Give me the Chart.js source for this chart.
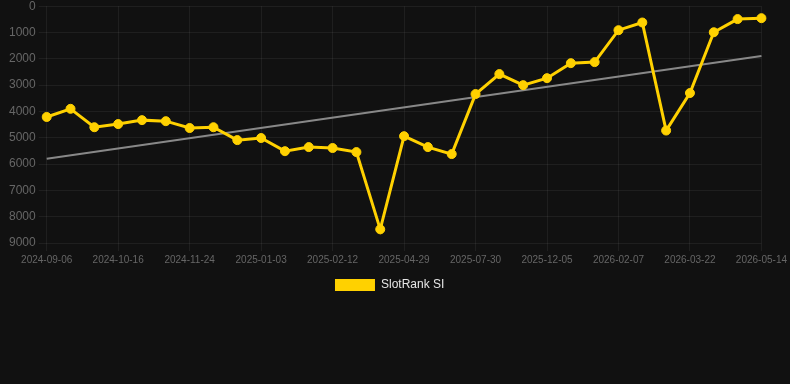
<!DOCTYPE html>
<html>
<head>
<meta charset="utf-8">
<script src="https://cdn.jsdelivr.net/npm/chart.js@4"></script>
<style>
  html, body { margin: 0; padding: 0; background: #111111; overflow: hidden; }
  #wrap { width: 790px; height: 305px; position: relative; margin-top: -4px; }
</style>
</head>
<body>
<div id="wrap"><canvas id="c"></canvas></div>
<script>
const dates = [
  "2024-09-06","2024-09-19","2024-10-03","2024-10-16","2024-10-29","2024-11-11",
  "2024-11-24","2024-12-07","2024-12-20","2025-01-03","2025-01-16","2025-01-29",
  "2025-02-12","2025-03-10","2025-04-03","2025-04-29","2025-05-29","2025-06-29",
  "2025-07-30","2025-09-04","2025-10-10","2025-12-05","2025-12-24","2026-01-14",
  "2026-02-07","2026-02-22","2026-03-07","2026-03-22","2026-04-09","2026-04-27",
  "2026-05-14"
];
const slotRankSI = [
  4210, 3900, 4600, 4480, 4330, 4370,
  4630, 4600, 5090, 5010, 5510, 5355,
  5390, 5545, 8480, 4940, 5355, 5620,
  3340, 2580, 3000, 2735, 2165, 2125,
  912, 620, 4726, 3300, 990, 490,
  455
];
const trendEnds = [5800, 1890];
const yTicks = [0, 1000, 2000, 3000, 4000, 5000, 6000, 7000, 8000, 9000];

const trendData = dates.map((d, i) => i === 0 ? trendEnds[0] : (i === dates.length - 1 ? trendEnds[1] : null));

new Chart(document.getElementById('c'), {
  type: 'line',
  data: {
    labels: dates,
    datasets: [
      {
        label: 'SlotRank SI',
        data: slotRankSI,
        borderColor: '#FFD100',
        backgroundColor: '#FFD100',
        borderWidth: 3,
        pointRadius: 4.5,
        pointBorderWidth: 1,
        pointHoverRadius: 4.5,
        pointBackgroundColor: '#FFD100',
        pointBorderColor: '#FFD100',
        tension: 0,
        order: 1
      },
      {
        label: 'Trend',
        data: trendData,
        spanGaps: true,
        borderColor: 'rgba(150,150,150,0.9)',
        borderWidth: 2,
        pointRadius: 0,
        tension: 0,
        order: 2
      }
    ]
  },
  options: {
    responsive: true,
    maintainAspectRatio: false,
    animation: false,
    layout: { padding: { left: 6 } },
    plugins: {
      legend: {
        position: 'bottom',
        labels: {
          color: '#e6e6e6',
          font: { size: 12 },
          boxWidth: 40,
          boxHeight: 12,
          filter: (item) => item.text.indexOf('SlotRank SI') === 0,
          generateLabels: (chart) => {
            const items = Chart.defaults.plugins.legend.labels.generateLabels(chart);
            items.forEach(it => {
              it.lineWidth = 0;
              if (it.text === 'SlotRank SI') it.text = 'SlotRank SI' + '\u00a0'.repeat(5);
            });
            return items;
          }
        }
      },
      tooltip: { enabled: false }
    },
    scales: {
      x: {
        grid: { color: 'rgba(255,255,255,0.06)', drawTicks: true, tickLength: 8 },
        border: { display: false },
        ticks: {
          color: '#666',
          font: { size: 10 },
          maxRotation: 0,
          autoSkip: true,
          callback: function(v, i) { return i % 3 === 0 ? this.getLabelForValue(v) : null; }
        }
      },
      y: {
        reverse: true,
        min: 0,
        max: 9000,
        grid: { color: 'rgba(255,255,255,0.06)' },
        border: { display: false },
        afterBuildTicks: (axis) => { axis.ticks = yTicks.map(v => ({ value: v })); },
        ticks: {
          color: '#666',
          font: { size: 12 },
          callback: (v) => String(v)
        }
      }
    }
  }
});
</script>
</body>
</html>
